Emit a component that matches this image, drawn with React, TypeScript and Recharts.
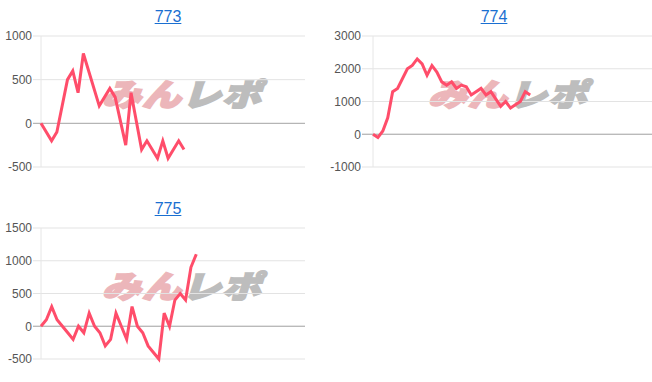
import { CartesianGrid, Line, LineChart, ReferenceLine, XAxis, YAxis } from "recharts";

// points: x = sample index, y = coin difference
const x773 = [0, 2, 3, 5, 6, 7, 8, 11, 13, 14, 16, 17, 19, 20, 22, 23, 24, 26, 27];
const y773 = [0, -200, -100, 500, 600, 350, 800, 200, 400, 300, -250, 350, -300, -200, -400, -200, -400, -200, -300];

const x774 = [0, 1, 2, 3, 4, 5, 7, 8, 9, 10, 11, 12, 13, 14, 15, 16, 17, 18, 19, 20, 22, 23, 24, 26, 27, 28, 30, 31, 32];
const y774 = [0, -100, 100, 500, 1300, 1400, 2000, 2100, 2300, 2150, 1800, 2100, 1900, 1600, 1500, 1600, 1400, 1500, 1450, 1200, 1400, 1200, 1300, 850, 1000, 800, 1000, 1300, 1200];

const x775 = [0, 1, 2, 3, 4, 5, 6, 7, 8, 9, 10, 11, 12, 13, 14, 15, 16, 17, 18, 19, 20, 21, 22, 23, 24, 25, 26, 27, 28, 29];
const y775 = [0, 100, 300, 100, 0, -100, -200, 0, -100, 200, 0, -100, -300, -200, 200, 0, -200, 300, 0, -100, -300, -400, -500, 200, 0, 400, 500, 400, 900, 1100];

const ticks773 = [-500, 0, 500, 1000];
const ticks774 = [-1000, 0, 1000, 2000, 3000];
const ticks775 = [-500, 0, 500, 1000, 1500];

const LINE = "#ff4d6a";
const FONT = "'Liberation Sans', Arial, sans-serif";

type Props = {
  title: string;
  xs: number[];
  ys: number[];
  ticks: number[];
  xMax: number;
  left: number;
  top: number;
  width: number;
  right: number;
  yWidth: number;
  padLeft: number;
};

function SmallChart({ title, xs, ys, ticks, xMax, left, top, width, right, yWidth, padLeft }: Props) {
  const data = xs.map((x, i) => ({ x, v: ys[i] }));
  return (
    <div style={{ position: "absolute", left, top, width, height: 190 }}>
      <div
        style={{
          position: "absolute",
          left: 168,
          top: 7,
          transform: "translateX(-50%)",
          fontFamily: FONT,
          fontSize: 16,
          lineHeight: "20px",
          color: "#1a6fd1",
          textDecoration: "underline",
        }}
      >
        {title}
      </div>
      <div
        style={{
          position: "absolute",
          left: 106,
          top: 75,
          whiteSpace: "nowrap",
          fontFamily: "'Noto Sans CJK JP', sans-serif",
          fontWeight: 900,
          fontSize: 31,
          lineHeight: "36px",
          letterSpacing: 1,
          transform: "scaleX(1.25) skewX(-14deg)",
          transformOrigin: "left center",
        }}
      >
        <span style={{ color: "#ecb6ba", WebkitTextStroke: "2px #ecb6ba" }}>みん</span>
        <span style={{ color: "#bdbdbd", WebkitTextStroke: "2px #bdbdbd" }}>レポ</span>
      </div>
      <div style={{ position: "absolute", left: 0, top: 0 }}>
        <LineChart width={width} height={190} data={data} margin={{ top: 36, right, bottom: 23, left: 0 }}>
          <CartesianGrid vertical={false} stroke="#e3e3e3" />
          <XAxis dataKey="x" type="number" domain={[0, xMax]} padding={{ left: padLeft, right: 0 }} hide />
          <YAxis
            domain={[ticks[0], ticks[ticks.length - 1]]}
            ticks={ticks}
            interval={0}
            width={yWidth}
            axisLine={false}
            tickLine={false}
            tickSize={0}
            tickMargin={1}
            tick={{ fill: "#555", fontSize: 12, fontFamily: FONT }}
          />
          <ReferenceLine x={0} stroke="#e6e6e6" />
          <ReferenceLine y={0} stroke="#ababab" />
          <Line type="linear" dataKey="v" stroke={LINE} strokeWidth={3} dot={false} isAnimationActive={false} />
        </LineChart>
      </div>
    </div>
  );
}

export default function App() {
  return (
    <div style={{ position: "absolute", left: 0, top: 0, width: 652, height: 382, overflow: "hidden", background: "#fff" }}>
      <SmallChart title="773" xs={x773} ys={y773} ticks={ticks773} xMax={49.85} left={0} top={0} width={330} right={25} yWidth={33} padLeft={8} />
      <SmallChart title="774" xs={x774} ys={y774} ticks={ticks774} xMax={56.8} left={326} top={0} width={326} right={0} yWidth={36} padLeft={11} />
      <SmallChart title="775" xs={x775} ys={y775} ticks={ticks775} xMax={49.3} left={0} top={192} width={330} right={25} yWidth={33} padLeft={8} />
    </div>
  );
}
